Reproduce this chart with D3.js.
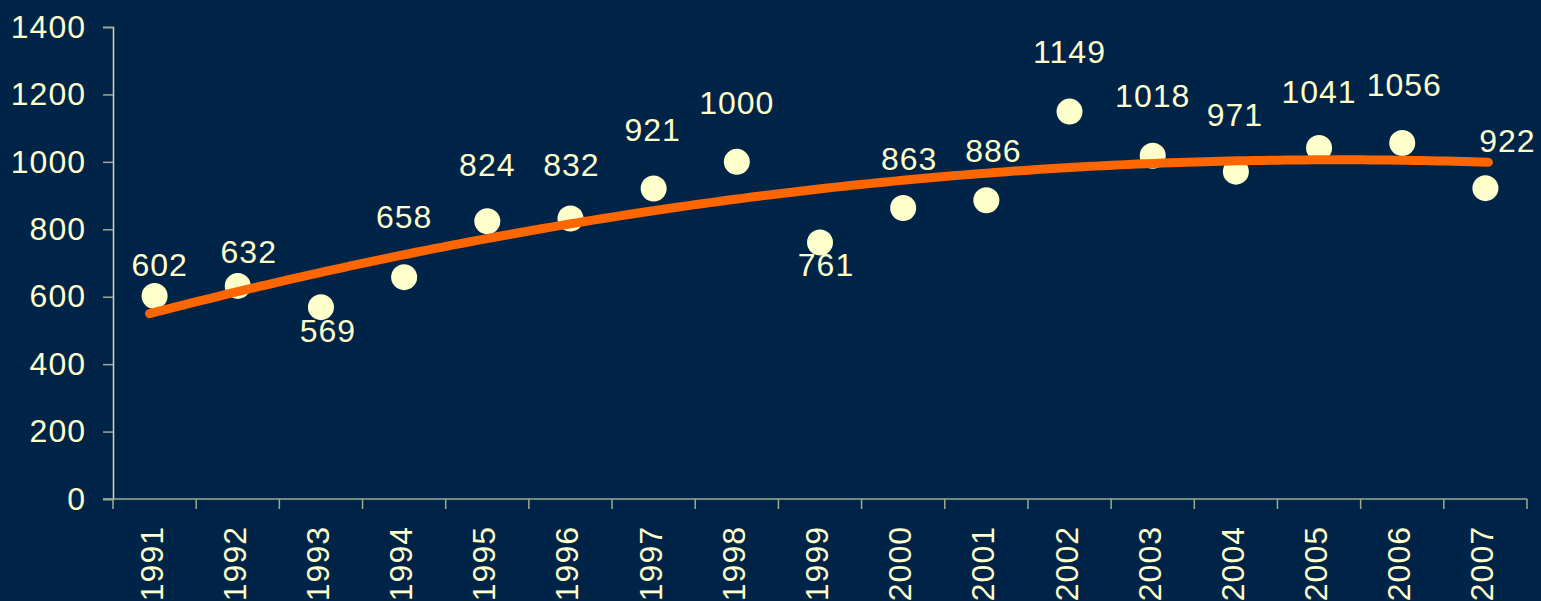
<!DOCTYPE html>
<html>
<head>
<meta charset="utf-8">
<script src="https://cdn.jsdelivr.net/npm/d3@7"></script>
<style>
  body { margin: 0; background: #002448; }
  svg { display: block; }
</style>
</head>
<body>
<div id="myVis"></div>
<script>
// data
const years = ["1991","1992","1993","1994","1995","1996","1997","1998","1999","2000","2001","2002","2003","2004","2005","2006","2007"]
const values = [602, 632, 569, 658, 824, 832, 921, 1000, 761, 863, 886, 1149, 1018, 971, 1041, 1056, 922]
const yTicks = [0, 200, 400, 600, 800, 1000, 1200, 1400]

// label nudges (pixels from the dot centre), the labels were hand placed
const labelDx = [5, 11, 7, 0, 0, 1, -1, 0, 6, 6, 7, 0, 0, -1, 0, 2, 22]
const labelDy = [-20, -23, 35, -49, -45, -42, -47, -48, 34, -38, -38, -49, -49, -46, -45, -47, -36]

var margin = {top: 27, right: 14, bottom: 102, left: 113},
width = 1541 - margin.left - margin.right,
height = 601 - margin.top - margin.bottom;

const textColor = "#ffffcc"
const font = "'Liberation Sans', Arial, sans-serif"
const fontSize = "32px"

const svg = d3.select("#myVis")
    .append("svg")
        .attr("width", 1541)
        .attr("height", 601)
        .style("background-color", "#002448")

const canvas = svg.append("g")
    .attr("transform", "translate(" + margin.left + "," + margin.top + ")")

const x = d3.scaleBand().domain(years).range([0, width])
const y = d3.scaleLinear().domain([0, 1400]).range([height, 0])

// y axis
const yAxis = canvas.append("g")
    .call(d3.axisLeft(y).tickValues(yTicks).tickFormat(d3.format("d")).tickSize(10).tickPadding(17))
yAxis.select(".domain").attr("stroke", "#d8d8b0").attr("stroke-width", 1.5)
yAxis.selectAll(".tick line").attr("stroke", "#a0a892").attr("stroke-width", 1.5)
yAxis.selectAll(".tick text")
    .attr("fill", textColor)
    .style("font-family", font)
    .style("font-size", fontSize)
    .style("letter-spacing", "1px")

// x axis, ticks sit on the band edges
const xAxis = canvas.append("g")
    .attr("transform", "translate(0," + height + ")")
xAxis.append("line")
    .attr("x1", -10).attr("x2", width)
    .attr("stroke", "#a0a892").attr("stroke-width", 1.5)
xAxis.selectAll(".edge")
    .data(years.concat(["end"]))
    .enter()
    .append("line")
        .attr("class", "edge")
        .attr("x1", (d, i) => i < years.length ? x(d) : width)
        .attr("x2", (d, i) => i < years.length ? x(d) : width)
        .attr("y1", 0)
        .attr("y2", 10)
        .attr("stroke", "#a0a892")
        .attr("stroke-width", 1.5)
xAxis.selectAll(".lbl")
    .data(years)
    .enter()
    .append("text")
        .attr("class", "lbl")
        .attr("transform", d => "translate(" + (x(d) + x.bandwidth() / 2 - 3) + ",27) rotate(-90)")
        .attr("text-anchor", "end")
        .attr("dominant-baseline", "central")
        .attr("fill", textColor)
        .style("font-family", font)
        .style("font-size", fontSize)
        .style("letter-spacing", "1px")
        .text(d => d)

// dots
canvas.append("g")
    .selectAll("circle")
    .data(values)
    .enter()
    .append("circle")
        .attr("cx", (d, i) => x(years[i]) + x.bandwidth() / 2)
        .attr("cy", d => y(d))
        .attr("r", 13)
        .attr("fill", "#ffffcc")

// quadratic trend line (least squares on the values, like the spreadsheet trendline)
const n = values.length
const xs = values.map((v, i) => i + 1)
let S = [0, 0, 0, 0, 0], T = [0, 0, 0]
xs.forEach((xi, i) => {
    for (let k = 0; k < 5; k++) S[k] += Math.pow(xi, k)
    for (let k = 0; k < 3; k++) T[k] += Math.pow(xi, k) * values[i]
})
const M = [[S[0], S[1], S[2], T[0]], [S[1], S[2], S[3], T[1]], [S[2], S[3], S[4], T[2]]]
for (let c = 0; c < 3; c++) {
    for (let r = c + 1; r < 3; r++) {
        let f = M[r][c] / M[c][c]
        for (let k = c; k < 4; k++) M[r][k] -= f * M[c][k]
    }
}
const coef = [0, 0, 0]
for (let r = 2; r >= 0; r--) {
    let s = M[r][3]
    for (let k = r + 1; k < 3; k++) s -= M[r][k] * coef[k]
    coef[r] = s / M[r][r]
}
const trend = d3.range(1, n + 0.001, 0.1).map(t => ({t: t, v: coef[0] + coef[1] * t + coef[2] * t * t}))
const xt = d3.scaleLinear().domain([1, n])
    .range([x(years[0]) + x.bandwidth() / 2 - 5, x(years[n - 1]) + x.bandwidth() / 2 + 3])

canvas.append("path")
    .datum(trend)
    .attr("d", d3.line().x(d => xt(d.t)).y(d => y(d.v)))
    .attr("fill", "none")
    .attr("stroke", "#ff6600")
    .attr("stroke-width", 9)
    .attr("stroke-linecap", "round")

// value labels
canvas.append("g")
    .selectAll("text")
    .data(values)
    .enter()
    .append("text")
        .attr("x", (d, i) => x(years[i]) + x.bandwidth() / 2 + labelDx[i])
        .attr("y", (d, i) => y(d) + labelDy[i])
        .attr("text-anchor", "middle")
        .attr("fill", textColor)
        .style("font-family", font)
        .style("font-size", fontSize)
        .style("letter-spacing", "1px")
        .text(d => d)
</script>
</body>
</html>
